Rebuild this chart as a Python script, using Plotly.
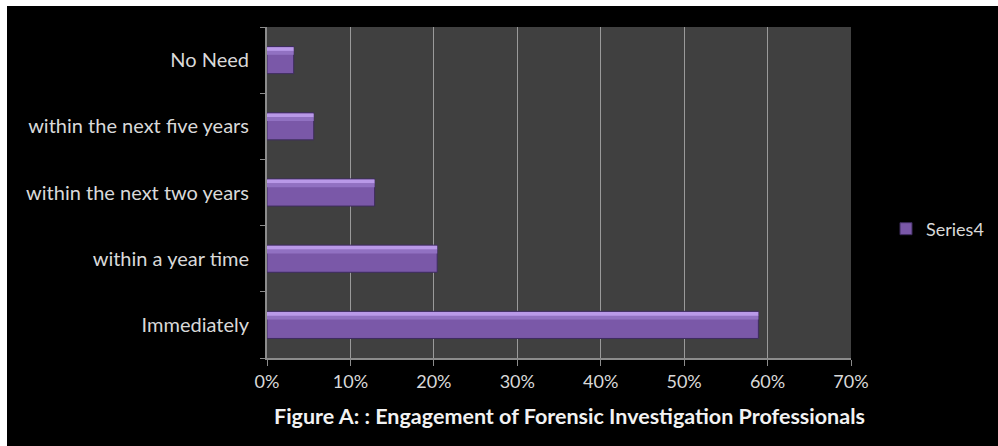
import plotly.graph_objects as go

categories = ["Immediately", "within a year time", "within the next two years",
              "within the next five years", "No Need"]
values = [0.589, 0.204, 0.129, 0.056, 0.032]
series_name = "Series4"
x_ticks = [0, 0.1, 0.2, 0.3, 0.4, 0.5, 0.6, 0.7]
x_tick_labels = ["0%", "10%", "20%", "30%", "40%", "50%", "60%", "70%"]
title_text = "Figure A: : Engagement of Forensic Investigation Professionals"

W, H = 998, 446
ML, MR, MT, MB = 267, 147, 27, 88
PW, PH = W - ML - MR, H - MT - MB

fig = go.Figure()
# main bar body
fig.add_trace(go.Bar(
    y=categories, x=values, orientation="h", name=series_name,
    width=0.41, offset=-0.205,
    marker=dict(color="#7a58a8", line=dict(color="#3e2c5e", width=1)),
    showlegend=True, hoverinfo="x+y",
))
# light top highlight (same data)
fig.add_trace(go.Bar(
    y=categories, x=values, orientation="h", name=series_name,
    width=0.06, offset=0.135,
    marker=dict(color="#b999e8", line=dict(width=0)),
    showlegend=False, hoverinfo="skip",
))
fig.add_trace(go.Bar(
    y=categories, x=values, orientation="h", name=series_name,
    width=0.06, offset=0.08,
    marker=dict(color="#9171c2", line=dict(width=0)),
    showlegend=False, hoverinfo="skip",
))

fig.update_layout(
    width=W, height=H,
    margin=dict(l=ML, r=MR, t=MT, b=MB, pad=0, autoexpand=False),
    paper_bgcolor="black",
    plot_bgcolor="#404040",
    barmode="overlay",
    font=dict(family="Lato, Carlito, sans-serif", size=18, color="#d9d9d9"),
    xaxis=dict(
        range=[0, 0.7], tickvals=x_ticks, ticktext=x_tick_labels,
        showgrid=True, gridcolor="#9a9a9a", gridwidth=1,
        zeroline=False, showline=True, linecolor="#8c8c8c", linewidth=2,
        ticks="outside", ticklen=6, tickcolor="#8c8c8c", tickwidth=1,
        tickfont=dict(size=18, color="#d9d9d9"), fixedrange=True,
    ),
    yaxis=dict(
        categoryorder="array", categoryarray=categories,
        showgrid=False, zeroline=False, showline=True, linecolor="#8c8c8c", linewidth=2,
        ticks="outside", ticklen=5, tickcolor="#8c8c8c", tickson="boundaries",
        ticklabelstandoff=12,
        tickfont=dict(size=20, color="#d9d9d9"), fixedrange=True,
    ),
    legend=dict(
        x=(886 - ML) / PW, y=(H - MB - 229) / PH, xanchor="left", yanchor="middle",
        bgcolor="rgba(0,0,0,0)", font=dict(size=18, color="#d9d9d9"),
        itemwidth=30,
    ),
    annotations=[dict(
        text="<b>" + title_text + "</b>", xref="paper", yref="paper",
        x=(569 - ML) / PW, y=(H - MB - 416) / PH, xanchor="center", yanchor="middle",
        showarrow=False, font=dict(size=21.5, color="#f2f2f2"),
    )],
    shapes=[
        dict(type="rect", xref="paper", yref="paper", layer="above",
             x0=(0 - ML) / PW, x1=(7 - ML) / PW, y0=(H - MB - H) / PH, y1=(H - MB) / PH,
             fillcolor="white", line=dict(width=0)),
        dict(type="rect", xref="paper", yref="paper", layer="above",
             x0=(0 - ML) / PW, x1=(W - ML) / PW, y0=(H - MB - 6) / PH, y1=(H - MB) / PH,
             fillcolor="white", line=dict(width=0)),
    ],
)

fig.write_html("out.html")
